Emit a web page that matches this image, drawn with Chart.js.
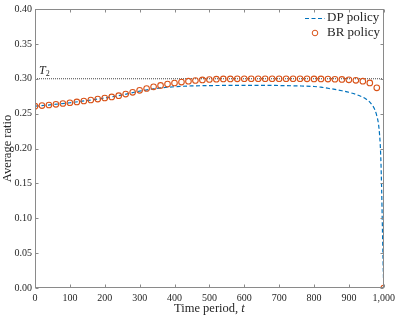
<!DOCTYPE html>
<html>
<head>
<meta charset="utf-8">
<script src="https://cdn.jsdelivr.net/npm/chart.js@4"></script>
<style>
    body { margin: 0; background: #fff; }
    #wrap { width: 399px; height: 315px; }
</style>
</head>
<body>
<div id="wrap"><canvas id="ratio-chart" width="399" height="315"></canvas></div>
<script>
// ------------------- Data ------------------
const brPeriods = [0, 20, 40, 60, 80, 100, 120, 140, 160, 180, 200, 220, 240, 260, 280, 300, 320, 340, 360, 380,
    400, 420, 440, 460, 480, 500, 520, 540, 560, 580, 600, 620, 640, 660, 680, 700, 720, 740, 760, 780,
    800, 820, 840, 860, 880, 900, 920, 940, 960, 980, 1000];
const brRatio = [0.2607, 0.2615, 0.2624, 0.2634, 0.2645, 0.2656, 0.2668, 0.2681, 0.2695, 0.2709, 0.2724, 0.2740, 0.2757, 0.2780, 0.2806, 0.2834, 0.2860, 0.2884, 0.2905, 0.2923,
    0.2939, 0.2953, 0.2965, 0.2975, 0.2983, 0.2989, 0.2994, 0.2997, 0.2998, 0.2999, 0.3000, 0.3000, 0.3000, 0.3000, 0.3000, 0.3000, 0.3000, 0.3000, 0.3000, 0.2999,
    0.2998, 0.2997, 0.2995, 0.2993, 0.2990, 0.2985, 0.2978, 0.2965, 0.2940, 0.2870, 0.0];

const dpPeriods = [0, 50, 100, 150, 200, 250, 300, 350, 400, 450, 500, 550, 600, 650, 700, 750, 800, 820, 840, 860,
    880, 900, 920, 940, 950, 960, 970, 975, 980, 985, 988, 990, 992, 994, 996, 998, 1000];
const dpRatio = [0.2607, 0.2629, 0.2656, 0.2688, 0.2724, 0.2768, 0.2822, 0.2862, 0.2886, 0.2897, 0.2902, 0.2904, 0.2905, 0.2905, 0.2903, 0.2898, 0.2889, 0.2879, 0.2864, 0.2847,
    0.2828, 0.2806, 0.2776, 0.2736, 0.2706, 0.2666, 0.2600, 0.2550, 0.2470, 0.2350, 0.2200, 0.2050, 0.1800, 0.1400, 0.0900, 0.0400, 0.0];

const thresholdValue = 0.30;
const thresholdLabel = 'T';
const thresholdSub = '2';

const xTicksMin = 0, xTicksMax = 1000, xTicksStep = 100;
const yTicksMin = 0, yTicksMax = 0.40, yTicksStep = 0.05;

const serif = '"Liberation Serif", "Times New Roman", serif';
const axisColor = '#8a8a8a';
const textColor = '#262626';

// ------------------- Box, inside ticks, labels and legend ------------------
const matlabLook = {
    id: 'matlabLook',
    afterDraw(chart) {
        const ctx = chart.ctx;
        const area = chart.chartArea;
        const xs = chart.scales.x;
        const ys = chart.scales.y;
        const L = Math.round(area.left) + 0.5, R = Math.round(area.right) - 0.5;
        const T = Math.round(area.top) + 0.5, B = Math.round(area.bottom) - 0.5;
        ctx.save();
        ctx.strokeStyle = axisColor;
        ctx.lineWidth = 1;
        ctx.strokeRect(L, T, R - L, B - T);
        ctx.beginPath();
        xs.ticks.forEach(t => {
            const px = Math.round(xs.getPixelForValue(t.value)) + 0.5;
            ctx.moveTo(px, B); ctx.lineTo(px, B - 3);
            ctx.moveTo(px, T); ctx.lineTo(px, T + 3);
        });
        ys.ticks.forEach(t => {
            const py = Math.round(ys.getPixelForValue(t.value)) + 0.5;
            ctx.moveTo(L, py); ctx.lineTo(L + 3, py);
            ctx.moveTo(R, py); ctx.lineTo(R - 3, py);
        });
        ctx.stroke();

        // threshold label
        ctx.fillStyle = textColor;
        ctx.textBaseline = 'alphabetic';
        ctx.textAlign = 'left';
        const tx = xs.getPixelForValue(0) + 4;
        const ty = ys.getPixelForValue(thresholdValue) - 5;
        ctx.font = 'italic 12px ' + serif;
        ctx.fillText(thresholdLabel, tx, ty);
        const tw = ctx.measureText(thresholdLabel).width;
        ctx.font = '8px ' + serif;
        ctx.fillText(thresholdSub, tx + tw, ty + 2);

        // x title
        ctx.font = '12.5px ' + serif;
        const part1 = 'Time period, ';
        const w1 = ctx.measureText(part1).width;
        ctx.font = 'italic 12.5px ' + serif;
        const w2 = ctx.measureText('t').width;
        const cx = (area.left + area.right) / 2 - (w1 + w2) / 2;
        ctx.textBaseline = 'middle';
        ctx.font = '12.5px ' + serif;
        ctx.fillText(part1, cx, 309);
        ctx.font = 'italic 12.5px ' + serif;
        ctx.fillText('t', cx + w1, 309);

        // legend
        const lx = 305, textX = 327;
        const rows = [18, 33];
        ctx.font = '13px ' + serif;
        chart.data.datasets.forEach((ds, i) => {
            if (i > 1) return;
            const y = rows[i];
            if (i === 0) {
                ctx.strokeStyle = ds.borderColor;
                ctx.setLineDash(ds.borderDash);
                ctx.beginPath();
                ctx.moveTo(lx, y + 0.5); ctx.lineTo(lx + 20, y + 0.5);
                ctx.stroke();
                ctx.setLineDash([]);
            } else {
                ctx.strokeStyle = ds.pointBorderColor;
                ctx.beginPath();
                ctx.arc(lx + 10, y, ds.pointRadius, 0, Math.PI * 2);
                ctx.stroke();
            }
            ctx.fillStyle = textColor;
            ctx.fillText(ds.label, textX, y);
        });
        ctx.restore();
    }
};

function ratioChart() {
    const data = {
        datasets: [{
            label: 'DP policy',
            data: dpPeriods.map((t, i) => ({ x: t, y: dpRatio[i] })),
            borderColor: '#0072BD',
            borderWidth: 1.2,
            borderDash: [4, 2.5],
            pointRadius: 0,
            cubicInterpolationMode: 'monotone',
            order: 2
        }, {
            label: 'BR policy',
            data: brPeriods.map((t, i) => ({ x: t, y: brRatio[i] })),
            showLine: false,
            pointRadius: 2.8,
            pointBorderWidth: 1.1,
            pointBorderColor: '#D95319',
            pointBackgroundColor: 'rgba(0,0,0,0)',
            order: 1
        }, {
            label: 'threshold',
            data: [{ x: xTicksMin, y: thresholdValue }, { x: xTicksMax, y: thresholdValue }],
            borderColor: '#444444',
            borderWidth: 1,
            borderDash: [1, 1],
            pointRadius: 0,
            order: 3
        }]
    };

    // ------------------- Chart Options ------------------
    const chartOptions = {
        responsive: false,
        animation: false,
        layout: { padding: { top: 6, right: 13, left: 0, bottom: 0 } },
        plugins: {
            legend: { display: false },
            tooltip: { enabled: false }
        },
        scales: {
            x: {
                type: 'linear',
                min: xTicksMin,
                max: xTicksMax,
                afterFit: s => { s.height = 27; },
                border: { display: false },
                grid: { drawOnChartArea: false, drawTicks: false },
                ticks: {
                    stepSize: xTicksStep,
                    padding: 4,
                    color: textColor,
                    font: { family: serif, size: 10 },
                    maxRotation: 0,
                    callback: v => v.toLocaleString('en-US')
                }
            },
            y: {
                min: yTicksMin,
                max: yTicksMax,
                afterFit: s => { s.width = 35; },
                border: { display: false },
                grid: { drawOnChartArea: false, drawTicks: false },
                ticks: {
                    stepSize: yTicksStep,
                    padding: 3,
                    color: textColor,
                    font: { family: serif, size: 10 },
                    callback: v => v.toFixed(2)
                },
                title: {
                    display: true,
                    text: 'Average ratio',
                    color: textColor,
                    padding: 0,
                    font: { family: serif, size: 12.5 }
                }
            }
        }
    };

    // ------------------- Chart Config ------------------
    const config = {
        type: 'line',
        data: data,
        options: chartOptions,
        plugins: [matlabLook]
    };

    // ------------------- Initialize Chart ------------------
    const myChart = new Chart(
        document.getElementById('ratio-chart'),
        config
    );
}

ratioChart();
</script>
</body>
</html>
